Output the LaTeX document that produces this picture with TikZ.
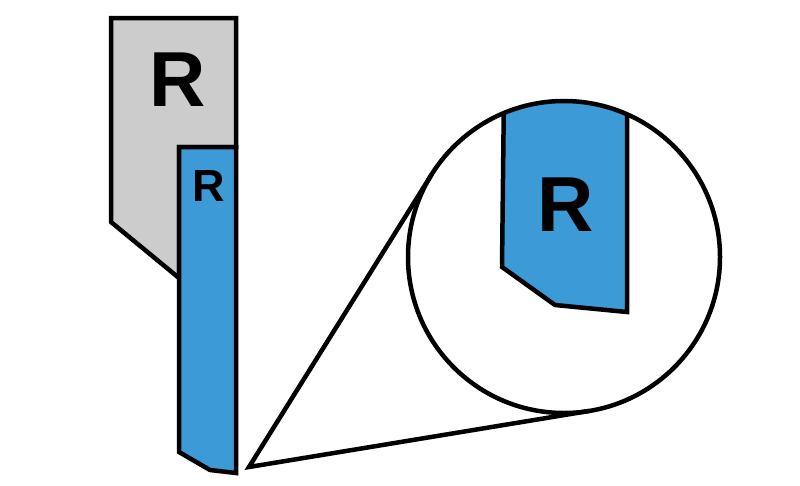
\documentclass[tikz,border=0pt]{standalone}
\usepackage{fontspec}
\setmainfont{Liberation Sans}
\usetikzlibrary{calc}
\definecolor{toolblue}{RGB}{60,155,215}
\definecolor{holdergray}{RGB}{204,204,204}

\begin{document}
\begin{tikzpicture}[x=1pt, y=-1pt, line width=4.5pt, line join=miter,
    letter/.style={font=\bfseries\fontsize{#1}{#1}\selectfont, inner sep=0pt}]
\useasboundingbox (0,0) rectangle (800,485);

% holder and insert
\draw[fill=holdergray] (111,18) -- (236,18) -- (236,147) -- (179,147) -- (179,278) -- (111,222) -- cycle;
\draw[fill=toolblue] (179,147) -- (236,147) -- (236,473) -- (210,470) -- (179,452) -- cycle;
\node[letter=78] (holderR) at (178,80) {R};
\node[letter=45] (insertR) at (209,186) {R};

% magnified view
\coordinate (zc) at (564,257);
\coordinate (apex) at (249,467);
\begin{scope}
\clip (zc) circle (156pt);
\fill[toolblue] (504,90) -- (502,267) -- (555,305) -- (627,312) -- (627,90) -- cycle;
\draw (504,90) -- (502,267) -- (555,305) -- (627,312) -- (627,90);
\end{scope}
\node[circle, draw, minimum size=312pt, inner sep=0pt, outer sep=0pt] (zoom) at (zc) {};
\node[letter=78] (zoomR) at (566,205) {R};

% lens lines
\coordinate (t1) at (tangent cs:node=zoom,point={(apex)},solution=1);
\coordinate (t2) at (tangent cs:node=zoom,point={(apex)},solution=2);
\draw (t1) -- (apex) -- (t2);
\end{tikzpicture}
\end{document}
